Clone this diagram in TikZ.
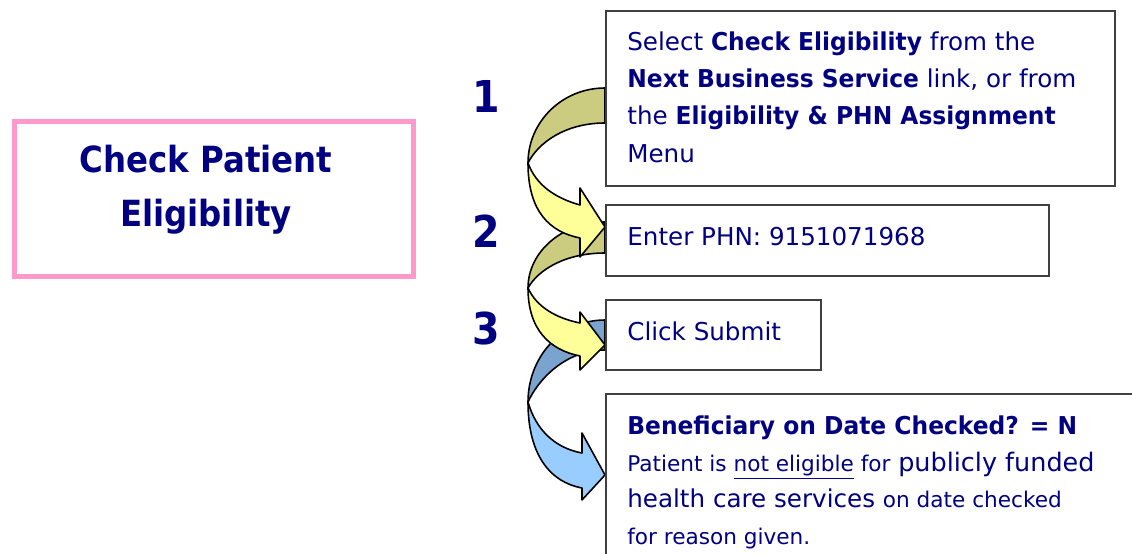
\documentclass[tikz,border=0pt]{standalone}
\usepackage{fontspec}
\setmainfont{DejaVu Sans}[BoldFeatures={FakeStretch=0.95}]
\newfontfamily\headfont{DejaVu Sans}[FakeStretch=0.9]
\usepackage{tikz}
\usetikzlibrary{positioning}

\definecolor{navy}{HTML}{000080}
\definecolor{rosa}{HTML}{FF99CC}
\definecolor{boxgray}{HTML}{404040}
\definecolor{olive}{HTML}{CCCC80}
\definecolor{lemon}{HTML}{FFFF99}
\definecolor{steel}{HTML}{7BA3CF}
\definecolor{sky}{HTML}{99CCFF}

\newcommand{\smallsz}{\fontsize{12.3}{20.7}\selectfont}
\newcommand{\bigsz}{\fontsize{14.5}{20.7}\selectfont}

\tikzset{
  stepbox/.style={draw=boxgray, line width=1.2pt, fill=white, rectangle, inner sep=0pt, anchor=north west},
  steptext/.style={text=navy, anchor=base west, align=left, inner sep=0pt, font=\fontsize{14}{21.2}\selectfont},
  stepnum/.style={text=navy, inner sep=0pt, font=\fontsize{25}{25}\selectfont\headfont\bfseries},
  swing/.style={draw=black, line width=0.9pt, line join=round}
}

\begin{document}
\begin{tikzpicture}[x=0.02cm, y=-0.02cm]
\useasboundingbox (0,0) rectangle (1132,554);

% back halves of the curved arrows
\filldraw[swing, fill=steel] (605,320) .. controls (560,320) and (528,358) .. (528,402) .. controls (538,380) and (565,350) .. (605,350) -- cycle;
\filldraw[swing, fill=olive] (605,222) .. controls (562,222) and (528,252) .. (528,288) .. controls (538,270) and (565,253) .. (605,253) -- cycle;
\filldraw[swing, fill=olive] (605,88) .. controls (562,88) and (528,122) .. (528,163) .. controls (538,143) and (565,123) .. (605,123) -- cycle;

% front halves with heads
\filldraw[swing, fill=sky] (528,402) .. controls (528,455) and (550,482) .. (582,488) -- (582,500) -- (605,475) -- (582,433) -- (582,453) .. controls (555,448) and (536,430) .. (528,402) -- cycle;
\filldraw[swing, fill=lemon] (528,288) .. controls (528,330) and (550,350) .. (580,356) -- (580,370) -- (605,345) -- (580,312) -- (580,323) .. controls (555,318) and (536,306) .. (528,288) -- cycle;
\filldraw[swing, fill=lemon] (528,163) .. controls (528,212) and (550,232) .. (580,238) -- (580,257) -- (605,227) -- (580,188) -- (580,205) .. controls (555,198) and (536,185) .. (528,163) -- cycle;

% title box
\node[draw=rosa, line width=2.85pt, rectangle, minimum width=7.98cm, minimum height=3.11cm, anchor=north west] (title) at (12,119) {};
\node[text=navy, align=center, anchor=base, inner sep=0pt, font=\fontsize{20.5}{30.2}\selectfont\headfont\bfseries] (titletext) at (206,226) {Check Patient\\Eligibility};

% step boxes
\node[stepbox, minimum width=10.18cm, minimum height=3.5cm] (select) at (605,10) {};
\node[stepbox, minimum width=8.86cm, minimum height=1.42cm] (enter) at (605,204) {};
\node[stepbox, minimum width=4.3cm, minimum height=1.4cm] (submit) at (605,299) {};
\node[stepbox, minimum width=10.7cm, minimum height=3.44cm] (result) at (605,393) {};

% texts (base = last line)
\node[steptext] (selecttext) at (627,162) {Select \textbf{Check Eligibility} from the\\\textbf{Next Business Service} link, or from\\the \textbf{Eligibility \& PHN Assignment}\\Menu};
\node[steptext] (entertext) at (627,245) {Enter PHN: 9151071968};
\node[steptext] (submittext) at (627,340) {Click Submit};
\node[steptext, font=\fontsize{14}{20.7}\selectfont] (resulttext) at (627,544) {\textbf{Beneficiary on Date Checked? = N}\\{\smallsz Patient is \underline{not eligible} for} {\bigsz publicly funded}\\health care services {\smallsz on date checked}\\{\smallsz for reason given.}};

% step numbers
\node[stepnum] (one) at (486,96) {1};
\node[stepnum] (two) at (486,231) {2};
\node[stepnum] (three) at (486,329) {3};
\end{tikzpicture}
\end{document}
